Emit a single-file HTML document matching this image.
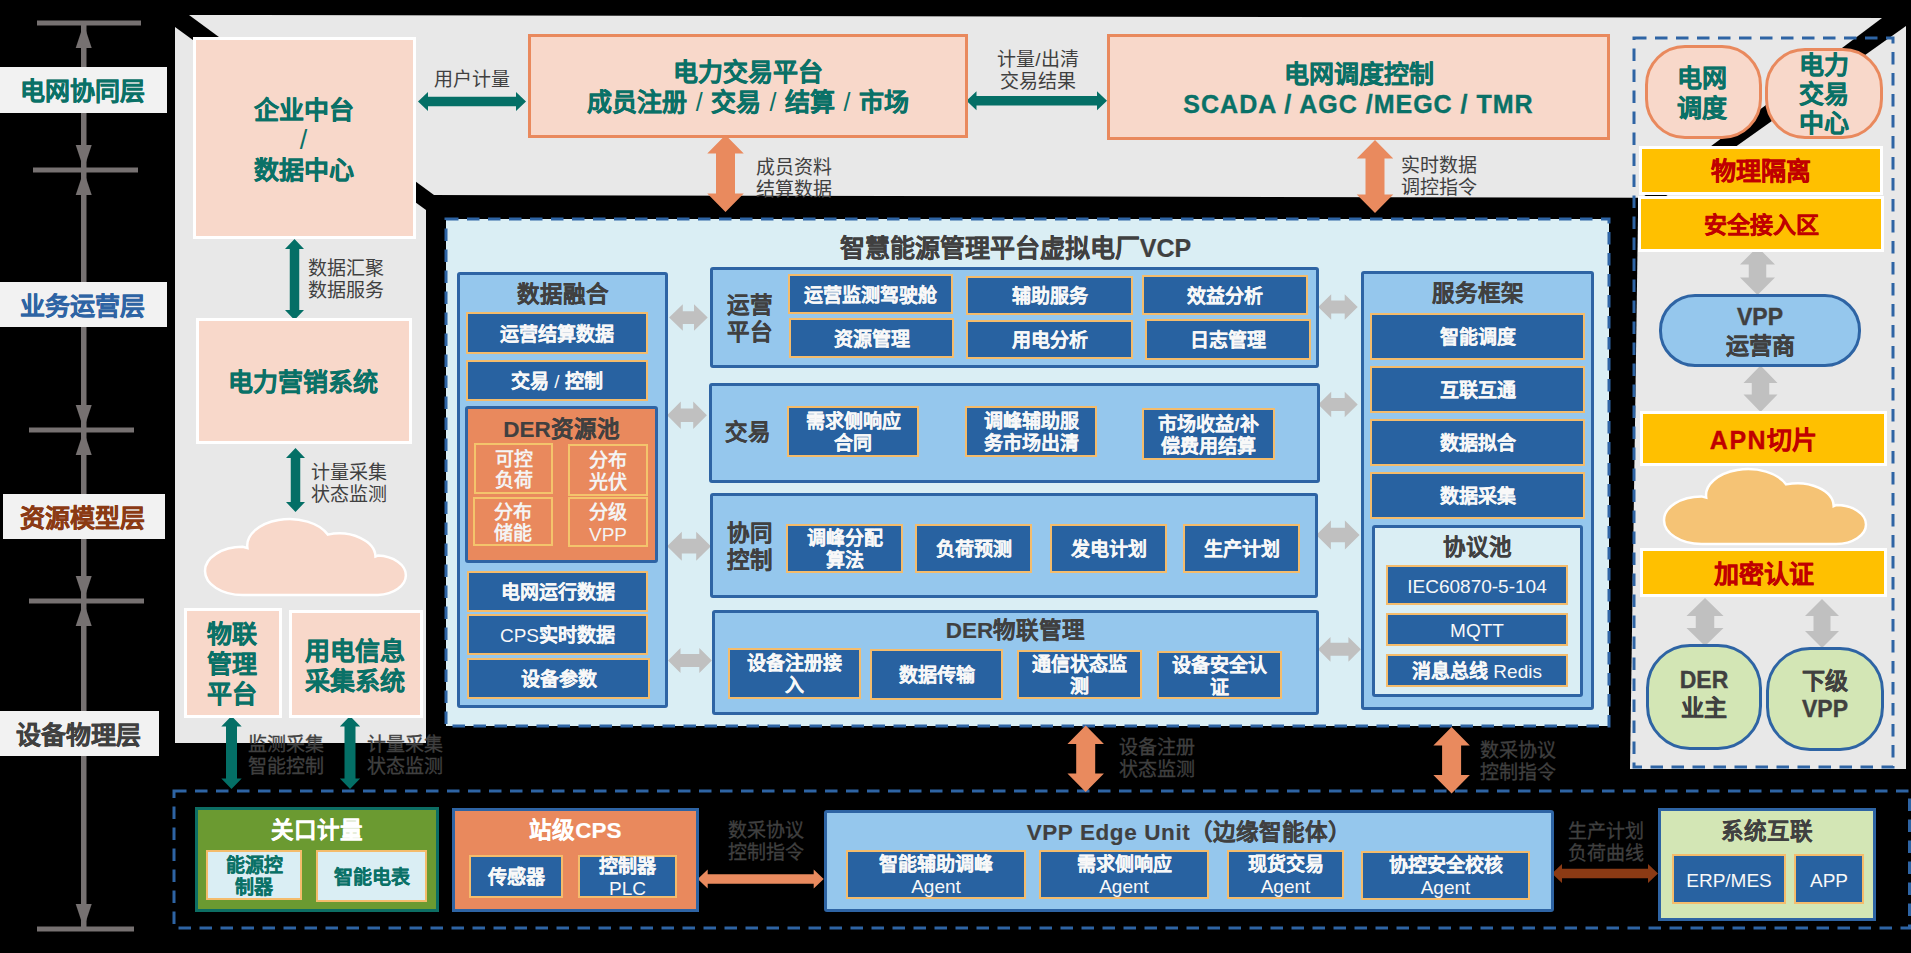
<!DOCTYPE html>
<html lang="zh-CN"><head><meta charset="utf-8"><title>VPP</title><style>
html,body{margin:0;padding:0;background:#000;}
body{width:1911px;height:953px;position:relative;overflow:hidden;font-family:"Liberation Sans",sans-serif;}
svg.bg{position:absolute;left:0;top:0;}
.b,.t{position:absolute;box-sizing:border-box;display:flex;align-items:center;justify-content:center;text-align:center;font-weight:bold;line-height:1.15;-webkit-text-stroke:0.35px currentColor;}
.latr{-webkit-text-stroke:0;}
.b>div,.t>div{position:relative;top:1.5px;}
.t.h3>div,.t.h3w>div{top:0.5px;}
.lay{background:#f2f2f2;font-size:25px;padding-right:3px;}
.pk{background:#f8d8ca;border:3px solid #fff;color:#0a7167;font-size:25px;padding-right:2px;}
.pko{background:#f8d8ca;border:3px solid #e9895d;color:#0a7167;font-size:25px;}
.yl{background:#ffc000;border:3px solid #fff;color:#c00000;font-size:25px;}
.vp{background:#95c7ed;border:3px solid #2e64a4;color:#404040;font-size:23px;}
.gr{background:#d3e6b5;border:3px solid #2e64a4;color:#404040;font-size:23px;}
.mb{background:#95c7ed;border:3px solid #2e64a4;border-radius:3px;}
.lc{background:#daeef4;border:3px solid #2e64a4;border-radius:3px;}
.lg{background:#d3e6b5;border:3px solid #2e64a4;}
.olv{background:#6b9a31;border:3px solid #0d6e64;}
.cps{background:#e9895d;border:3px solid #2e64a4;}
.org{background:#e9895d;border:3px solid #2e64a4;border-radius:3px;}
.db{background:#2862a1;border:2px solid #f4bc6c;color:#f8f8f8;font-size:19px;line-height:22px;-webkit-text-stroke:0.1px currentColor;}
.os{background:#e9895d;border:2px solid #f4c46c;color:#f4f4f4;font-size:19px;line-height:21.5px;-webkit-text-stroke:0;}
.lb{background:#daeef4;border:2px solid #f4bc6c;color:#0a7167;font-size:19px;line-height:22px;-webkit-text-stroke:0.15px currentColor;}
.h2{font-size:25px;color:#404040;-webkit-text-stroke:0.2px currentColor;}
.h3{font-size:22.5px;color:#404040;-webkit-text-stroke:0.15px currentColor;}
.h3w{font-size:22.5px;color:#fff;-webkit-text-stroke:0.15px currentColor;}
.lab{position:absolute;font-size:19px;line-height:22px;color:#404040;font-weight:350;}
.lab.dk{-webkit-text-stroke:0.3px currentColor;}
.sl{font-weight:normal;-webkit-text-stroke:0;}
.lat{font-family:"Liberation Sans",sans-serif;}
.latr{font-weight:normal;}
</style></head>
<body>
<svg class="bg" width="1911" height="953" viewBox="0 0 1911 953">
<rect width="1911" height="953" fill="#000"/>
<polygon points="189,15 1882,18 1642,197.8 434,195" fill="#e8e8e8"/><polygon points="175,27 426,210 426,743 175,743" fill="#e8e8e8"/><polygon points="1906,26 1906,769 1630,769 1638,216" fill="#e8e8e8"/><rect x="446" y="219" width="1163" height="507" fill="#daeef4" stroke="#2e64a4" stroke-width="3" stroke-dasharray="12.5 8.5"/><rect x="1634" y="38" width="259" height="729" fill="none" stroke="#2e64a4" stroke-width="3" stroke-dasharray="12.5 8.5"/><rect x="174" y="791" width="1735.5" height="137" fill="none" stroke="#2e64a4" stroke-width="3" stroke-dasharray="12.5 8.5"/><rect x="37" y="20.5" width="104" height="5" fill="#767171"/><rect x="33" y="167.5" width="105" height="5" fill="#767171"/><rect x="29" y="427.5" width="105" height="5" fill="#767171"/><rect x="29" y="598.5" width="115" height="5" fill="#767171"/><rect x="37" y="926.5" width="97" height="5" fill="#767171"/><rect x="81" y="23" width="5.5" height="906" fill="#767171"/><polygon points="83.7,24 91.7,48 75.7,48" fill="#767171"/><polygon points="83.7,171 91.7,195 75.7,195" fill="#767171"/><polygon points="83.7,431 91.7,455 75.7,455" fill="#767171"/><polygon points="83.7,602 91.7,626 75.7,626" fill="#767171"/><polygon points="83.7,169 91.7,145 75.7,145" fill="#767171"/><polygon points="83.7,429 91.7,405 75.7,405" fill="#767171"/><polygon points="83.7,600 91.7,576 75.7,576" fill="#767171"/><polygon points="83.7,928 91.7,904 75.7,904" fill="#767171"/><path d="M242.6,595.0 A37.6 24.1 0 0 1 242.6,546.8 L247.4,548.0 A42.2 26.6 0 0 1 327.8,534.6 A36.5 23.6 0 0 1 375.5,556.5 L378.0,555.5 A30.0 19.8 0 0 1 378.0,595.0 Z" fill="#f8d8ca" stroke="#fff" stroke-width="2.5"/><path d="M1701.4,544.0 A37.4 23.8 0 0 1 1701.4,496.4 L1706.2,497.6 A42.0 26.2 0 0 1 1786.2,484.4 A36.4 23.2 0 0 1 1833.7,506.1 L1836.1,505.0 A29.9 19.5 0 0 1 1836.1,544.0 Z" fill="#f5c375" stroke="#fff" stroke-width="2.5"/><polygon points="418,101.5 428,92.0 428,96.75 516,96.75 516,92.0 526,101.5 516,111.0 516,106.25 428,106.25 428,111.0" fill="#046f66"/><polygon points="966.5,100.7 976.5,91.2 976.5,95.95 1097,95.95 1097,91.2 1107,100.7 1097,110.2 1097,105.45 976.5,105.45 976.5,110.2" fill="#046f66"/><polygon points="294.5,239 304.0,249 299.25,249 299.25,310 304.0,310 294.5,320 285.0,310 289.75,310 289.75,249 285.0,249" fill="#046f66"/><polygon points="295.5,448 305.0,458 300.25,458 300.25,502 305.0,502 295.5,512 286.0,502 290.75,502 290.75,458 286.0,458" fill="#046f66"/><polygon points="231.5,716 241.7,726.5 237.0,726.5 237.0,778.5 241.7,778.5 231.5,789 221.3,778.5 226.0,778.5 226.0,726.5 221.3,726.5" fill="#046f66"/><polygon points="350,716 360.2,726.5 355.5,726.5 355.5,778.5 360.2,778.5 350,789 339.8,778.5 344.5,778.5 344.5,726.5 339.8,726.5" fill="#046f66"/><polygon points="725.5,135 743.75,153.5 735.0,153.5 735.0,193.5 743.75,193.5 725.5,212 707.25,193.5 716.0,193.5 716.0,153.5 707.25,153.5" fill="#e98a5e"/><polygon points="1375,140 1393.25,158.5 1384.5,158.5 1384.5,194.5 1393.25,194.5 1375,213 1356.75,194.5 1365.5,194.5 1365.5,158.5 1356.75,158.5" fill="#e98a5e"/><polygon points="1085.7,725.5 1103.95,744.0 1095.2,744.0 1095.2,773.5 1103.95,773.5 1085.7,792 1067.45,773.5 1076.2,773.5 1076.2,744.0 1067.45,744.0" fill="#e98a5e"/><polygon points="1451.6,727 1469.85,745.5 1461.1,745.5 1461.1,775.1 1469.85,775.1 1451.6,793.6 1433.35,775.1 1442.1,775.1 1442.1,745.5 1433.35,745.5" fill="#e98a5e"/><polygon points="697.7,879 707.7,869.5 707.7,874.25 813.7,874.25 813.7,869.5 823.7,879 813.7,888.5 813.7,883.75 707.7,883.75 707.7,888.5" fill="#e98a5e"/><polygon points="1552,873.5 1562,864.0 1562,868.75 1648,868.75 1648,864.0 1658,873.5 1648,883.0 1648,878.25 1562,878.25 1562,883.0" fill="#8b3a14"/><polygon points="669.1,317.6 682.8000000000001,304.35 682.8000000000001,311.3 694.0,311.3 694.0,304.35 707.7,317.6 694.0,330.85 694.0,323.90000000000003 682.8000000000001,323.90000000000003 682.8000000000001,330.85" fill="#c0c0c0"/><polygon points="667.1,415.2 680.8000000000001,401.5 680.8000000000001,408.5 693.1999999999999,408.5 693.1999999999999,401.5 706.9,415.2 693.1999999999999,428.9 693.1999999999999,421.9 680.8000000000001,421.9 680.8000000000001,428.9" fill="#c0c0c0"/><polygon points="667.1,546.2 681.8000000000001,531.7 681.8000000000001,538.8000000000001 696.1999999999999,538.8000000000001 696.1999999999999,531.7 710.9,546.2 696.1999999999999,560.7 696.1999999999999,553.6 681.8000000000001,553.6 681.8000000000001,560.7" fill="#c0c0c0"/><polygon points="668,660.5 680.5,648.1 680.5,654.0 699.3,654.0 699.3,648.1 711.8,660.5 699.3,672.9 699.3,667.0 680.5,667.0 680.5,672.9" fill="#c0c0c0"/><polygon points="1318.2,307.1 1331.2,294.35 1331.2,300.6 1344.7,300.6 1344.7,294.35 1357.7,307.1 1344.7,319.85 1344.7,313.6 1331.2,313.6 1331.2,319.85" fill="#c0c0c0"/><polygon points="1318.2,404.4 1331.2,391.65 1331.2,397.9 1344.7,397.9 1344.7,391.65 1357.7,404.4 1344.7,417.15 1344.7,410.9 1331.2,410.9 1331.2,417.15" fill="#c0c0c0"/><polygon points="1316.2,535 1330.9,520.5 1330.9,527.7 1344.8999999999999,527.7 1344.8999999999999,520.5 1359.6,535 1344.8999999999999,549.5 1344.8999999999999,542.3 1330.9,542.3 1330.9,549.5" fill="#c0c0c0"/><polygon points="1318,649.3 1330.5,636.9499999999999 1330.5,642.8 1348.4,642.8 1348.4,636.9499999999999 1360.9,649.3 1348.4,661.65 1348.4,655.8 1330.5,655.8 1330.5,661.65" fill="#c0c0c0"/><polygon points="1757.5,247 1775.0,264.5 1766.25,264.5 1766.25,277.5 1775.0,277.5 1757.5,295 1740.0,277.5 1748.75,277.5 1748.75,264.5 1740.0,264.5" fill="#c0c0c0"/><polygon points="1760.5,365.5 1777.5,383.0 1769.25,383.0 1769.25,394.5 1777.5,394.5 1760.5,412 1743.5,394.5 1751.75,394.5 1751.75,383.0 1743.5,383.0" fill="#c0c0c0"/><polygon points="1705,598 1723.5,616 1714.25,616 1714.25,628 1723.5,628 1705,646 1686.5,628 1695.75,628 1695.75,616 1686.5,616" fill="#c0c0c0"/><polygon points="1822,599 1839.0,616 1830.5,616 1830.5,631 1839.0,631 1822,648 1805.0,631 1813.5,631 1813.5,616 1805.0,616" fill="#c0c0c0"/>
</svg>
<div class="b lay" style="left:0px;top:67px;width:167px;height:46px;"><div><span style="color:#0a7167">电网协同层</span></div></div><div class="b lay" style="left:0px;top:282px;width:167px;height:45px;"><div><span style="color:#2e64a4">业务运营层</span></div></div><div class="b lay" style="left:3px;top:494px;width:162px;height:45px;"><div><span style="color:#8b3a14">资源模型层</span></div></div><div class="b lay" style="left:0px;top:711px;width:159px;height:45px;"><div><span style="color:#404040">设备物理层</span></div></div><div class="b pk" style="left:193px;top:37px;width:223px;height:202px;line-height:30px"><div>企业中台<br><span class="sl" style="font-size:27px">/</span><br>数据中心</div></div><div class="b pk" style="left:196px;top:318px;width:216px;height:126px;"><div>电力营销系统</div></div><div class="b pk" style="left:184px;top:608px;width:98px;height:110px;line-height:30px;padding-bottom:2px"><div>物联<br>管理<br>平台</div></div><div class="b pk" style="left:289px;top:610px;width:134px;height:108px;line-height:30px"><div>用电信息<br>采集系统</div></div><div class="b pko" style="left:528px;top:34px;width:440px;height:104px;line-height:30px;word-spacing:1.5px;padding-bottom:2px"><div>电力交易平台<br>成员注册 <span class="sl">/</span> 交易 <span class="sl">/</span> 结算 <span class="sl">/</span> 市场</div></div><div class="b pko" style="left:1107px;top:34px;width:503px;height:106px;line-height:30px"><div>电网调度控制<br><span class="lat" style="letter-spacing:1px">SCADA / AGC /MEGC / TMR</span></div></div><div class="b pko pill" style="left:1645px;top:45px;width:117px;height:94px;line-height:30px;border-radius:40px;padding:0 4px 2px 0"><div>电网<br>调度</div></div><div class="b pko pill" style="left:1765px;top:48px;width:118px;height:91px;line-height:29px;border-radius:40px;padding-bottom:2px"><div>电力<br>交易<br>中心</div></div><div class="b yl" style="left:1639px;top:146px;width:244px;height:48.5px;"><div>物理隔离</div></div><div class="b yl" style="left:1638px;top:196px;width:246px;height:56px;font-size:23px"><div>安全接入区</div></div><div class="b vp" style="left:1659px;top:294px;width:202px;height:73px;line-height:29px;border-radius:36px"><div><span class="lat">VPP</span><br>运营商</div></div><div class="b yl" style="left:1640px;top:411px;width:247px;height:55px;"><div><span class="lat" style="letter-spacing:1.5px">APN</span>切片</div></div><div class="b yl" style="left:1640px;top:548px;width:247px;height:49px;"><div>加密认证</div></div><div class="b gr" style="left:1646px;top:644px;width:116px;height:106px;line-height:28px;border-radius:44px;padding-bottom:10px"><div><span class="lat">DER</span><br>业主</div></div><div class="b gr" style="left:1766px;top:647px;width:118px;height:104px;line-height:28px;border-radius:44px;padding-bottom:11px"><div>下级<br><span class="lat">VPP</span></div></div><div class="t h2" style="left:434px;top:228px;width:1163px;height:38px;"><div>智慧能源管理平台虚拟电厂<span class="lat">VCP</span></div></div><div class="b mb" style="left:457px;top:272px;width:211px;height:436px;"><div></div></div><div class="t h3" style="left:457px;top:278px;width:211px;height:33px;"><div>数据融合</div></div><div class="b db" style="left:466px;top:312px;width:182px;height:42px;"><div>运营结算数据</div></div><div class="b db" style="left:466px;top:360px;width:182px;height:41px;"><div>交易 <span class="sl">/</span> 控制</div></div><div class="b org" style="left:465px;top:406px;width:193px;height:157px;"><div></div></div><div class="t h3" style="left:465px;top:412px;width:193px;height:35px;"><div><span class="lat">DER</span>资源池</div></div><div class="b os" style="left:474px;top:443px;width:79px;height:51px;"><div>可控<br>负荷</div></div><div class="b os" style="left:568px;top:444px;width:80px;height:52px;"><div>分布<br>光伏</div></div><div class="b os" style="left:473px;top:497px;width:80px;height:49px;"><div>分布<br>储能</div></div><div class="b os" style="left:568px;top:497px;width:80px;height:50px;"><div>分级<br><span class="latr">VPP</span></div></div><div class="b db" style="left:467px;top:571px;width:181px;height:41px;"><div>电网运行数据</div></div><div class="b db" style="left:467px;top:614px;width:181px;height:41px;"><div><span class="latr">CPS</span>实时数据</div></div><div class="b db" style="left:467px;top:658px;width:183px;height:41px;"><div>设备参数</div></div><div class="b mb" style="left:710px;top:267px;width:609px;height:101px;"><div></div></div><div class="t h3" style="left:720px;top:280px;width:60px;height:76px;line-height:27px"><div>运营<br>平台</div></div><div class="b db" style="left:788px;top:274px;width:165px;height:40px;"><div>运营监测驾驶舱</div></div><div class="b db" style="left:789px;top:318px;width:165px;height:40px;"><div>资源管理</div></div><div class="b db" style="left:966px;top:276px;width:167px;height:39px;"><div>辅助服务</div></div><div class="b db" style="left:966px;top:320px;width:167px;height:39px;"><div>用电分析</div></div><div class="b db" style="left:1142px;top:275px;width:166px;height:40px;"><div>效益分析</div></div><div class="b db" style="left:1145px;top:319px;width:166px;height:41px;"><div>日志管理</div></div><div class="b mb" style="left:709px;top:383px;width:611px;height:100px;"><div></div></div><div class="t h3" style="left:718px;top:410px;width:60px;height:45px;"><div>交易</div></div><div class="b db" style="left:787px;top:406px;width:132px;height:51px;"><div>需求侧响应<br>合同</div></div><div class="b db" style="left:965px;top:406px;width:132px;height:51px;"><div>调峰辅助服<br>务市场出清</div></div><div class="b db" style="left:1142px;top:408px;width:133px;height:52px;"><div>市场收益/补<br>偿费用结算</div></div><div class="b mb" style="left:710px;top:493px;width:608px;height:105px;"><div></div></div><div class="t h3" style="left:720px;top:511px;width:60px;height:70px;line-height:27px"><div>协同<br>控制</div></div><div class="b db" style="left:786px;top:524px;width:117px;height:49px;"><div>调峰分配<br>算法</div></div><div class="b db" style="left:915px;top:524px;width:117px;height:49px;"><div>负荷预测</div></div><div class="b db" style="left:1050px;top:524px;width:117px;height:49px;"><div>发电计划</div></div><div class="b db" style="left:1183px;top:524px;width:117px;height:49px;"><div>生产计划</div></div><div class="b mb" style="left:712px;top:610px;width:607px;height:105px;"><div></div></div><div class="t h3" style="left:712px;top:613px;width:607px;height:35px;"><div><span class="lat">DER</span>物联管理</div></div><div class="b db" style="left:728px;top:648px;width:133px;height:51px;"><div>设备注册接<br>入</div></div><div class="b db" style="left:870px;top:649px;width:133px;height:51px;"><div>数据传输</div></div><div class="b db" style="left:1017px;top:650px;width:125px;height:49px;"><div>通信状态监<br>测</div></div><div class="b db" style="left:1157px;top:651px;width:125px;height:48px;"><div>设备安全认<br>证</div></div><div class="b mb" style="left:1361px;top:271px;width:233px;height:439px;"><div></div></div><div class="t h3" style="left:1361px;top:277px;width:233px;height:33px;"><div>服务框架</div></div><div class="b db" style="left:1370px;top:313px;width:215px;height:47px;"><div>智能调度</div></div><div class="b db" style="left:1370px;top:366px;width:215px;height:47px;"><div>互联互通</div></div><div class="b db" style="left:1370px;top:419px;width:215px;height:47px;"><div>数据拟合</div></div><div class="b db" style="left:1370px;top:472px;width:215px;height:47px;"><div>数据采集</div></div><div class="b lc" style="left:1372px;top:525px;width:211px;height:172px;"><div></div></div><div class="t h3" style="left:1372px;top:530px;width:211px;height:35px;"><div>协议池</div></div><div class="b db" style="left:1386px;top:565px;width:182px;height:40px;"><div><span class="latr">IEC60870-5-104</span></div></div><div class="b db" style="left:1386px;top:613px;width:182px;height:33px;"><div><span class="latr">MQTT</span></div></div><div class="b db" style="left:1386px;top:654px;width:182px;height:33px;"><div>消息总线 <span class="latr">Redis</span></div></div><div class="b olv" style="left:195px;top:807px;width:244px;height:105px;"><div></div></div><div class="t h3w" style="left:195px;top:812px;width:244px;height:36px;"><div>关口计量</div></div><div class="b lb" style="left:206px;top:850px;width:96px;height:50px;"><div>能源控<br>制器</div></div><div class="b lb" style="left:316px;top:850px;width:111px;height:52px;"><div>智能电表</div></div><div class="b cps" style="left:452px;top:808px;width:247px;height:104px;"><div></div></div><div class="t h3w" style="left:452px;top:812px;width:247px;height:36px;"><div>站级<span class="lat">CPS</span></div></div><div class="b db" style="left:469px;top:855px;width:94px;height:43px;"><div>传感器</div></div><div class="b db" style="left:578px;top:855px;width:99px;height:43px;"><div>控制器<br><span class="latr">PLC</span></div></div><div class="b mb" style="left:824px;top:810px;width:730px;height:102px;"><div></div></div><div class="t h3" style="left:824px;top:814px;width:730px;height:36px;"><div><span class="lat" style="letter-spacing:0.6px">VPP Edge Unit</span>（边缘智能体）</div></div><div class="b db" style="left:846px;top:850px;width:180px;height:49px;"><div>智能辅助调峰<br><span class="latr">Agent</span></div></div><div class="b db" style="left:1039px;top:850px;width:170px;height:49px;"><div>需求侧响应<br><span class="latr">Agent</span></div></div><div class="b db" style="left:1227px;top:850px;width:117px;height:49px;"><div>现货交易<br><span class="latr">Agent</span></div></div><div class="b db" style="left:1361px;top:851px;width:169px;height:49px;"><div>协控安全校核<br><span class="latr">Agent</span></div></div><div class="b lg" style="left:1658px;top:808px;width:218px;height:113px;"><div></div></div><div class="t h3" style="left:1658px;top:814px;width:218px;height:34px;"><div>系统互联</div></div><div class="b db" style="left:1672px;top:854px;width:114px;height:50px;"><div><span class="latr">ERP/MES</span></div></div><div class="b db" style="left:1794px;top:854px;width:70px;height:50px;"><div><span class="latr">APP</span></div></div><div class="lab" style="left:422px;top:69px;width:100px;text-align:center">用户计量</div><div class="lab" style="left:985px;top:49px;width:106px;text-align:center">计量/出清<br>交易结果</div><div class="lab" style="left:756px;top:157px;width:100px;text-align:left">成员资料<br>结算数据</div><div class="lab" style="left:1401px;top:155px;width:100px;text-align:left">实时数据<br>调控指令</div><div class="lab" style="left:308px;top:258px;width:100px;text-align:left">数据汇聚<br>数据服务</div><div class="lab" style="left:311px;top:462px;width:100px;text-align:left">计量采集<br>状态监测</div><div class="lab dk" style="left:248px;top:734px;width:100px;text-align:left">监测采集<br>智能控制</div><div class="lab dk" style="left:367px;top:734px;width:100px;text-align:left">计量采集<br>状态监测</div><div class="lab dk" style="left:1119px;top:737px;width:100px;text-align:left">设备注册<br>状态监测</div><div class="lab dk" style="left:1480px;top:740px;width:100px;text-align:left">数采协议<br>控制指令</div><div class="lab dk" style="left:716px;top:820px;width:100px;text-align:center">数采协议<br>控制指令</div><div class="lab dk" style="left:1556px;top:821px;width:100px;text-align:center">生产计划<br>负荷曲线</div>
</body></html>
